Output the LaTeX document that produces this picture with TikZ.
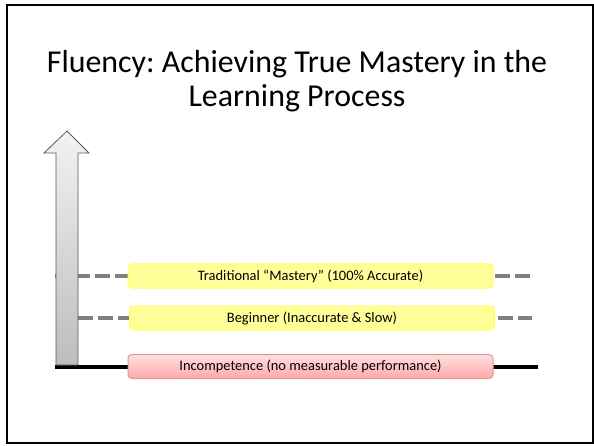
\documentclass[tikz,border=0pt]{standalone}
\usepackage{fontspec}
\setmainfont{Carlito}
\frenchspacing
\definecolor{levelfill}{HTML}{FFFF99}
\definecolor{leveledge}{HTML}{FFFF55}
\definecolor{lowtop}{HTML}{FFE0E0}
\definecolor{lowbot}{HTML}{FFA8A8}
\definecolor{lowedge}{HTML}{E09595}
\definecolor{guidegray}{HTML}{808080}
\tikzset{
  level/.style={draw=leveledge, fill=levelfill, line width=1bp, rounded corners=4bp,
    minimum width=365bp, minimum height=24bp, inner sep=0pt, font=\fontsize{14.5}{16}\selectfont},
  lowlevel/.style={level, draw=lowedge, top color=lowtop, bottom color=lowbot},
  guide/.style={draw=guidegray, line width=4bp, dash pattern=on 15bp off 5bp},
}
\begin{document}
\begin{tikzpicture}[x=1bp,y=-1bp]
	\useasboundingbox (0,0) rectangle (594,446);
	\draw[line width=2bp] (7,5) rectangle (593,443);
	\node (title) at (297,81) [align=center, font=\fontsize{32}{34}\selectfont]
		{Fluency: Achieving True Mastery in the\\Learning Process};
	% levels and guide lines
	\coordinate (tradL) at (55,276);
	\coordinate (tradR) at (532,276);
	\coordinate (begL) at (78,318);
	\coordinate (begR) at (532,318);
	\coordinate (baseL) at (55,367);
	\coordinate (baseR) at (538,367);
	\draw[guide] (tradL) -- (tradR);
	\draw[guide] (begL) -- (begR);
	\draw[line width=4.5bp] (baseL) -- (baseR);
	% arrow
	\draw[draw=black!65, line width=0.8bp, top color=black!5, bottom color=black!26]
		(56,365) -- (56,153) -- (44,153) -- (67,131) -- (89,153) -- (78,153) -- (78,365) -- cycle;
	\node (trad) at (310.5,276) [level] {Traditional “Mastery” (100\% Accurate)};
	\node (beg) at (312,318) [level] {Beginner (Inaccurate \& Slow)};
	\node (incomp) at (310.5,366.5) [lowlevel] {Incompetence (no measurable performance)};
\end{tikzpicture}
\end{document}
